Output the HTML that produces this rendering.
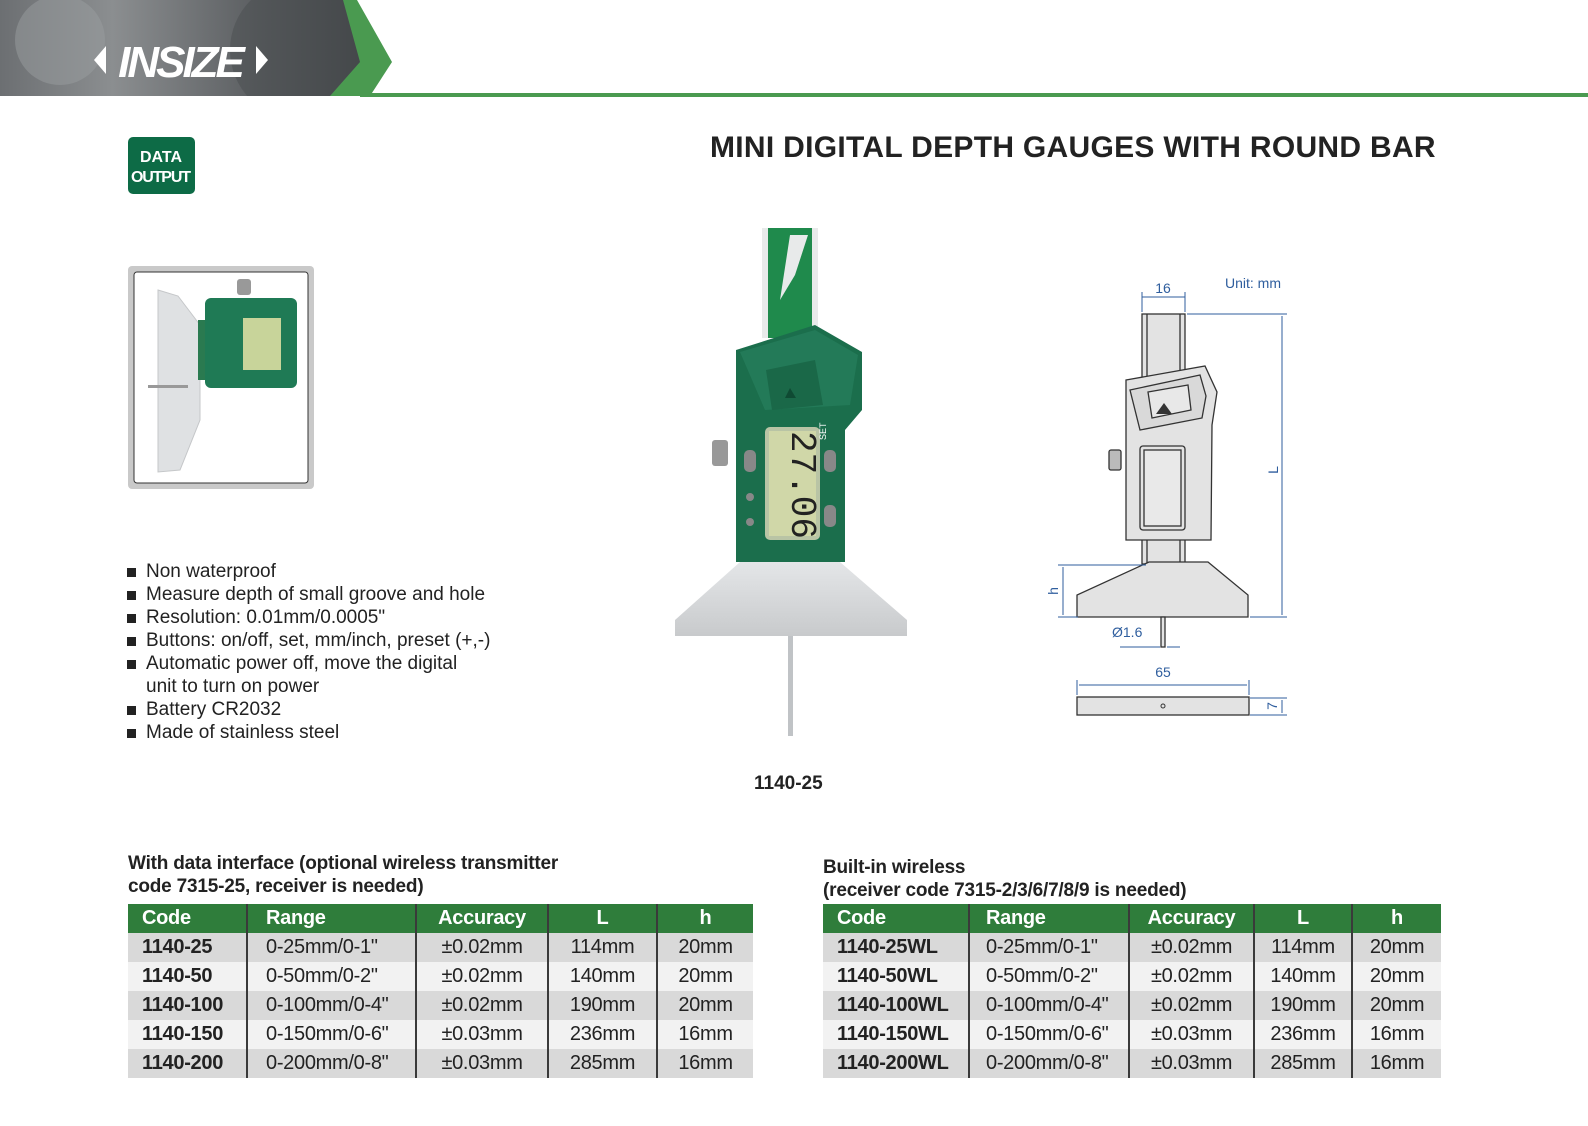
<!DOCTYPE html>
<html><head><meta charset="utf-8"><style>
body{margin:0;width:1588px;height:1126px;position:relative;background:#fff;font-family:"Liberation Sans",Arial,sans-serif;color:#222;overflow:hidden}
.abs{position:absolute}
table{border-collapse:collapse;position:absolute;font-size:20px;table-layout:fixed}
td,th{height:29px;padding:0;border-left:2px solid #3a3a3a;white-space:nowrap;letter-spacing:-0.3px}
td:first-child,th:first-child{border-left:none}
th{background:#2f7d3b;color:#fff;font-weight:bold;text-align:center;height:29px}
th.l,td.l{text-align:left;padding-left:14px}
td{text-align:center}
td.c{font-weight:bold}
tr.o td{background:#d9d9d9}
tr.e td{background:#f2f2f2}
.ttl{position:absolute;font-weight:bold;font-size:19px;line-height:23px;letter-spacing:-0.2px;color:#222}
ul{position:absolute;left:126px;top:560px;margin:0;padding:0;list-style:none;font-size:19px;line-height:23px;color:#222}
ul li{padding-left:20px;position:relative}
ul li:before{content:"";position:absolute;left:1px;top:8px;width:9px;height:9px;background:#222}
</style></head><body>
<svg class="abs" style="left:0;top:0" width="1588" height="1126">
<defs>
<linearGradient id="hd" x1="0" x2="1"><stop offset="0" stop-color="#6c6f72"/><stop offset=".3" stop-color="#8b8e90"/><stop offset=".7" stop-color="#5a5d60"/><stop offset="1" stop-color="#3c3f42"/></linearGradient>
<linearGradient id="st" x1="0" x2="0" y1="0" y2="1"><stop offset="0" stop-color="#e4e6e8"/><stop offset="1" stop-color="#c8cacc"/></linearGradient>
<clipPath id="hc"><polygon points="0,0 345,0 375,62 345,96 0,96"/></clipPath>
</defs>
<polygon points="0,0 345,0 375,62 345,96 0,96" fill="url(#hd)"/>
<g clip-path="url(#hc)">
<circle cx="60" cy="40" r="45" fill="#9a9da0" opacity=".5"/>
<circle cx="300" cy="50" r="70" fill="#4a4d50" opacity=".5"/>
</g>
<polygon points="343,0 357,0 392,62 370,96 330,96 360,62" fill="#4a9a50"/>
<rect x="360" y="93" width="1228" height="4" fill="#4a9a50"/>
<text x="180" y="77" text-anchor="middle" font-family="Liberation Sans" font-weight="bold" font-style="italic" font-size="44" fill="#fff" letter-spacing="-3">INSIZE</text>
<polygon points="94,60 106,46 106,74" fill="#fff"/><polygon points="268,60 256,46 256,74" fill="#fff"/>
<rect x="128" y="137" width="67" height="57" rx="5" fill="#0d6b46"/>
<text x="161" y="162" text-anchor="middle" font-size="16" font-weight="bold" fill="#fff">DATA</text>
<text x="161" y="182" text-anchor="middle" font-size="16" font-weight="bold" fill="#fff" textLength="60">OUTPUT</text>
<rect x="128" y="266" width="186" height="223" rx="4" fill="#c9c9c9"/>
<rect x="134" y="272" width="174" height="211" rx="3" fill="#fff" stroke="#333" stroke-width="1"/>
<polygon points="158,290 178,296 200,325 200,420 180,470 158,472" fill="#dfe1e3" stroke="#c5c7c9"/>
<rect x="148" y="385" width="40" height="3" fill="#999"/>
<rect x="198" y="320" width="20" height="60" fill="#2a7a50"/>
<rect x="205" y="298" width="92" height="90" rx="6" fill="#1f7a55"/>
<rect x="243" y="318" width="38" height="52" fill="#c8d49a"/>
<rect x="237" y="279" width="14" height="16" rx="3" fill="#999"/>
<rect x="762" y="228" width="56" height="110" fill="#e8eaea"/>
<rect x="768" y="228" width="44" height="110" fill="#1f8a4c"/>
<path d="M790,235 L808,235 L795,275 L780,300 Z" fill="#e8eaea"/>
<path d="M736,350 L815,325 L862,352 L862,410 L845,430 L845,562 L736,562 Z" fill="#1b6e4c"/>
<path d="M740,352 L815,330 L858,355 L850,405 L765,410 Z" fill="#237a58"/>
<path d="M766,370 L815,360 L823,405 L772,410 Z" fill="#1a6848"/>
<polygon points="785,398 790,388 796,398" fill="#0f4a33"/>
<rect x="765" y="427" width="55" height="113" rx="5" fill="#b9c4a5"/>
<rect x="769" y="431" width="47" height="105" fill="#d0d7a8"/>
<text x="792" y="485" text-anchor="middle" font-size="36" fill="#222" transform="rotate(90 792 485)" font-family="Liberation Mono">27.06</text>
<rect x="744" y="450" width="12" height="22" rx="5" fill="#888"/>
<rect x="824" y="450" width="12" height="22" rx="5" fill="#888"/>
<rect x="824" y="505" width="12" height="22" rx="5" fill="#888"/>
<circle cx="750" cy="497" r="4" fill="#888"/><circle cx="750" cy="522" r="4" fill="#888"/>
<rect x="712" y="440" width="16" height="26" rx="3" fill="#999"/>
<text x="826" y="440" font-size="9" fill="#fff" transform="rotate(-90 826 440)">SET</text>
<path d="M740,562 L840,562 L907,620 L907,636 L675,636 L675,620 Z" fill="url(#st)"/>
<rect x="788" y="636" width="5" height="100" fill="#c0c3c6"/>
<g fill="#e3e3e3" stroke="#333" stroke-width="1.3">
<rect x="1142" y="314" width="43" height="250"/>
<line x1="1147" y1="314" x2="1147" y2="564"/><line x1="1180" y1="314" x2="1180" y2="564"/>
<path d="M1126,380 L1205,366 L1217,392 L1212,425 L1211,540 L1126,540 Z"/>
<path d="M1130,390 L1200,375 L1206,396 L1202,418 L1140,430 Z" fill="#d9d9d9"/>
<path d="M1148,392 L1188,385 L1191,410 L1152,418 Z" fill="#e8e8e8"/>
<rect x="1140" y="446" width="45" height="84" rx="3"/>
<rect x="1144" y="450" width="37" height="76" fill="#e9e9e9"/>
<rect x="1109" y="450" width="12" height="20" rx="2" fill="#bbb"/>
<path d="M1149,562 L1208,562 L1248,595 L1248,617 L1077,617 L1077,595 Z"/>
<rect x="1161" y="617" width="4" height="30"/>
<rect x="1077" y="697" width="172" height="18"/>
</g>
<polygon points="1156,414 1164,403 1172,414" fill="#333"/>
<circle cx="1163" cy="706" r="2" fill="none" stroke="#333"/>
<g stroke="#2f5e9e" stroke-width="1" fill="none">
<line x1="1142" y1="292" x2="1142" y2="312"/><line x1="1185" y1="292" x2="1185" y2="312"/><line x1="1142" y1="297" x2="1185" y2="297"/>
<line x1="1187" y1="314" x2="1287" y2="314"/><line x1="1250" y1="617" x2="1287" y2="617"/><line x1="1282" y1="316" x2="1282" y2="615"/>
<line x1="1058" y1="565" x2="1146" y2="565"/><line x1="1058" y1="617" x2="1078" y2="617"/><line x1="1063" y1="567" x2="1063" y2="615"/>
<line x1="1120" y1="647" x2="1160" y2="647"/><line x1="1167" y1="647" x2="1180" y2="647"/>
<line x1="1077" y1="680" x2="1077" y2="695"/><line x1="1249" y1="680" x2="1249" y2="695"/><line x1="1079" y1="685" x2="1247" y2="685"/>
<line x1="1250" y1="698" x2="1287" y2="698"/><line x1="1250" y1="715" x2="1287" y2="715"/><line x1="1282" y1="700" x2="1282" y2="713"/>
</g>
<g font-size="14" fill="#2f5e9e">
<text x="1163" y="293" text-anchor="middle">16</text>
<text x="1225" y="288">Unit: mm</text>
<text x="1278" y="470" transform="rotate(-90 1278 470)" text-anchor="middle">L</text>
<text x="1058" y="591" transform="rotate(-90 1058 591)" text-anchor="middle">h</text>
<text x="1112" y="637">Ø1.6</text>
<text x="1163" y="677" text-anchor="middle">65</text>
<text x="1277" y="706" transform="rotate(-90 1277 706)" text-anchor="middle">7</text>
</g>
</svg>
<div class="abs" style="left:710px;top:131px;font-size:30px;font-weight:bold;color:#222;letter-spacing:0.3px;white-space:nowrap">MINI DIGITAL DEPTH GAUGES WITH ROUND BAR</div>
<ul>
<li>Non waterproof</li>
<li>Measure depth of small groove and hole</li>
<li>Resolution: 0.01mm/0.0005"</li>
<li>Buttons: on/off, set, mm/inch, preset (+,-)</li>
<li>Automatic power off, move the digital<br>unit to turn on power</li>
<li>Battery CR2032</li>
<li>Made of stainless steel</li>
</ul>
<div class="abs" style="left:754px;top:773px;font-size:19px;font-weight:bold">1140-25</div>
<div class="ttl" style="left:128px;top:852px">With data interface (optional wireless transmitter<br>code 7315-25, receiver is needed)</div>
<div class="ttl" style="left:823px;top:856px">Built-in wireless<br>(receiver code 7315-2/3/6/7/8/9 is needed)</div>
<table style="left:128px;top:904px;width:625px">
<colgroup><col style="width:119px"><col style="width:169px"><col style="width:132px"><col style="width:109px"><col style="width:96px"></colgroup>
<tr><th class="l">Code</th><th class="l" style="padding-left:18px">Range</th><th>Accuracy</th><th>L</th><th>h</th></tr>
<tr class="o"><td class="l c">1140-25</td><td class="l" style="padding-left:18px">0-25mm/0-1"</td><td>±0.02mm</td><td>114mm</td><td>20mm</td></tr>
<tr class="e"><td class="l c">1140-50</td><td class="l" style="padding-left:18px">0-50mm/0-2"</td><td>±0.02mm</td><td>140mm</td><td>20mm</td></tr>
<tr class="o"><td class="l c">1140-100</td><td class="l" style="padding-left:18px">0-100mm/0-4"</td><td>±0.02mm</td><td>190mm</td><td>20mm</td></tr>
<tr class="e"><td class="l c">1140-150</td><td class="l" style="padding-left:18px">0-150mm/0-6"</td><td>±0.03mm</td><td>236mm</td><td>16mm</td></tr>
<tr class="o"><td class="l c">1140-200</td><td class="l" style="padding-left:18px">0-200mm/0-8"</td><td>±0.03mm</td><td>285mm</td><td>16mm</td></tr>
</table>
<table style="left:823px;top:904px;width:618px">
<colgroup><col style="width:146px"><col style="width:160px"><col style="width:125px"><col style="width:98px"><col style="width:89px"></colgroup>
<tr><th class="l">Code</th><th class="l" style="padding-left:16px">Range</th><th>Accuracy</th><th>L</th><th>h</th></tr>
<tr class="o"><td class="l c">1140-25WL</td><td class="l" style="padding-left:16px">0-25mm/0-1"</td><td>±0.02mm</td><td>114mm</td><td>20mm</td></tr>
<tr class="e"><td class="l c">1140-50WL</td><td class="l" style="padding-left:16px">0-50mm/0-2"</td><td>±0.02mm</td><td>140mm</td><td>20mm</td></tr>
<tr class="o"><td class="l c">1140-100WL</td><td class="l" style="padding-left:16px">0-100mm/0-4"</td><td>±0.02mm</td><td>190mm</td><td>20mm</td></tr>
<tr class="e"><td class="l c">1140-150WL</td><td class="l" style="padding-left:16px">0-150mm/0-6"</td><td>±0.03mm</td><td>236mm</td><td>16mm</td></tr>
<tr class="o"><td class="l c">1140-200WL</td><td class="l" style="padding-left:16px">0-200mm/0-8"</td><td>±0.03mm</td><td>285mm</td><td>16mm</td></tr>
</table>
</body></html>
